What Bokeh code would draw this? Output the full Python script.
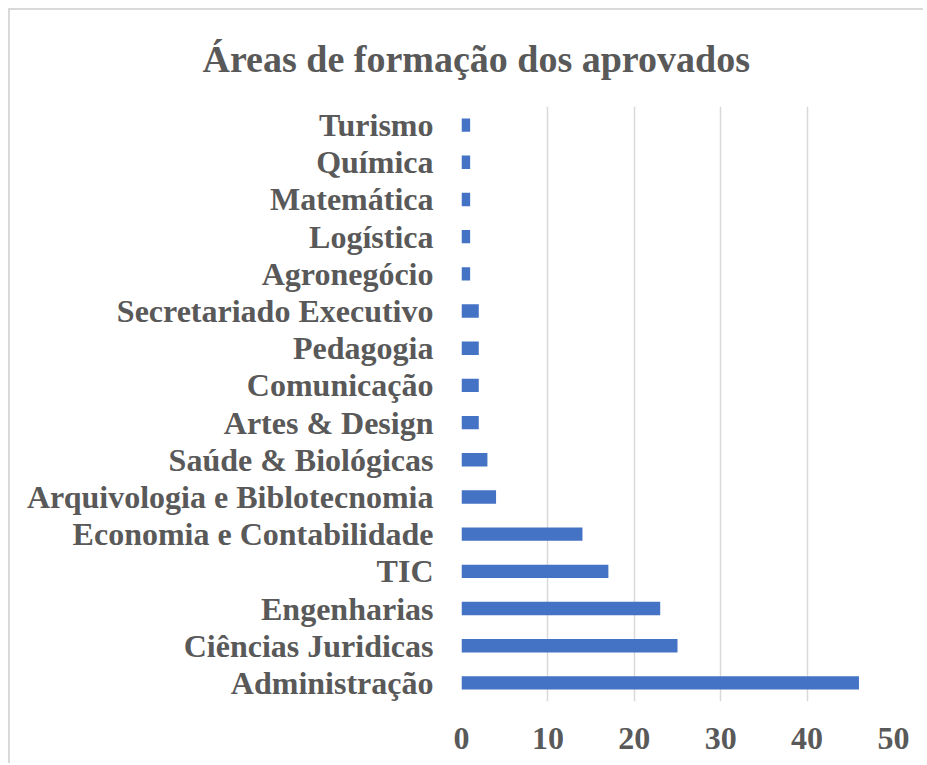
from bokeh.plotting import figure
from bokeh.models import FactorRange, Range1d, FixedTicker, Title
from bokeh.embed import file_html
from bokeh.resources import INLINE

# Data (bottom to top)
categories = ["Administração", "Ciências Juridicas", "Engenharias", "TIC",
              "Economia e Contabilidade", "Arquivologia e Biblotecnomia",
              "Saúde & Biológicas", "Artes & Design", "Comunicação", "Pedagogia",
              "Secretariado Executivo", "Agronegócio", "Logística", "Matemática",
              "Química", "Turismo"]
values = [46, 25, 23, 17, 14, 4, 3, 2, 2, 2, 2, 1, 1, 1, 1, 1]
x_ticks = [0, 10, 20, 30, 40, 50]
title_text = "Áreas de formação dos aprovados"

FONT = "Liberation Serif"
GRAY = "#595959"

p = figure(width=915, height=755, output_backend="svg", toolbar_location=None,
           y_range=FactorRange(*categories, range_padding=0),
           x_range=Range1d(0, 50),
           min_border_left=451, min_border_right=32, min_border_top=96,
           min_border_bottom=64)

p.title = Title(text=title_text, align="left", offset=-259, standoff=51,
                vertical_align="middle",
                text_font=FONT, text_font_style="bold", text_font_size="38px",
                text_color=GRAY)

p.hbar(y=categories, right=values, height=0.36, color="#4472C4", line_color=None)

p.outline_line_color = None
p.background_fill_color = "white"
p.border_fill_color = "white"
p.ygrid.grid_line_color = None
p.xgrid.grid_line_color = "#d9d9d9"
p.xgrid.grid_line_width = 1.5
p.xaxis.ticker = FixedTicker(ticks=x_ticks)

for ax in (p.xaxis[0], p.yaxis[0]):
    ax.axis_line_color = None
    ax.major_tick_line_color = None
    ax.minor_tick_line_color = None
    ax.major_tick_out = 0
    ax.major_tick_in = 0
    ax.major_label_text_font = FONT
    ax.major_label_text_font_style = "bold"
    ax.major_label_text_font_size = "32px"
    ax.major_label_text_color = GRAY

p.xaxis.major_label_standoff = 26
p.yaxis.major_label_standoff = 28

p.styles = {"margin-left": "8px", "margin-top": "8px",
            "border-left": "2px solid #d9d9d9", "border-top": "2px solid #d9d9d9"}

open("out.html", "w").write(file_html(p, INLINE))
